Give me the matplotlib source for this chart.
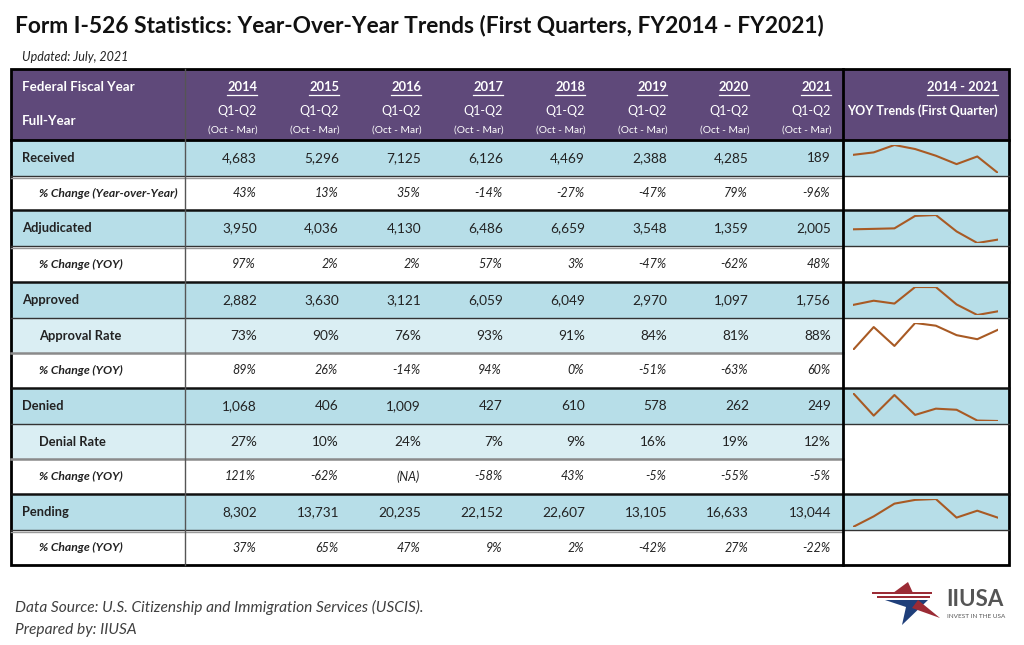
import matplotlib
matplotlib.use("Agg")
import matplotlib.pyplot as plt
from matplotlib.patches import Rectangle, Polygon

plt.rcParams['font.family'] = ['Lato', 'DejaVu Sans']

# ---- data ----
years = ["2014", "2015", "2016", "2017", "2018", "2019", "2020", "2021"]
received = [4683, 5296, 7125, 6126, 4469, 2388, 4285, 189]
received_chg = ["43%", "13%", "35%", "-14%", "-27%", "-47%", "79%", "-96%"]
adjudicated = [3950, 4036, 4130, 6486, 6659, 3548, 1359, 2005]
adjudicated_chg = ["97%", "2%", "2%", "57%", "3%", "-47%", "-62%", "48%"]
approved = [2882, 3630, 3121, 6059, 6049, 2970, 1097, 1756]
approval_rate = [73, 90, 76, 93, 91, 84, 81, 88]
approved_chg = ["89%", "26%", "-14%", "94%", "0%", "-51%", "-63%", "60%"]
denied = [1068, 406, 1009, 427, 610, 578, 262, 249]
denial_rate = [27, 10, 24, 7, 9, 16, 19, 12]
denied_chg = ["121%", "-62%", "(NA)", "-58%", "43%", "-5%", "-55%", "-5%"]
pending = [8302, 13731, 20235, 22152, 22607, 13105, 16633, 13044]
pending_chg = ["37%", "65%", "47%", "9%", "2%", "-42%", "27%", "-22%"]

# (label, kind, values, cell texts, sparkline?)
rows = [
    ("Received", "main", received, None, True),
    ("% Change (Year-over-Year)", "chg", None, received_chg, False),
    ("Adjudicated", "main", adjudicated, None, True),
    ("% Change (YOY)", "chg", None, adjudicated_chg, False),
    ("Approved", "main", approved, None, True),
    ("Approval Rate", "rate", approval_rate, None, True),
    ("% Change (YOY)", "chg", None, approved_chg, False),
    ("Denied", "main", denied, None, True),
    ("Denial Rate", "rate", denial_rate, None, False),
    ("% Change (YOY)", "chg", None, denied_chg, False),
    ("Pending", "main", pending, None, True),
    ("% Change (YOY)", "chg", None, pending_chg, False),
]

PURPLE = "#5F497A"
BLUE = "#B7DEE8"
LBLUE = "#DAEEF3"
TXT = "#222222"
SPARK = "#A85A24"

W, H = 1024, 645
fig = plt.figure(figsize=(W / 100, H / 100), dpi=100)
ax = fig.add_axes([0, 0, 1, 1])
ax.set_xlim(0, W)
ax.set_ylim(H, 0)
ax.axis("off")

left, lab_r, trend_l, right = 11, 185, 843, 1009
col_w = 82
head_top, head_bot = 69, 140
edges = [140, 176, 210, 246, 282, 318, 353, 388, 424, 459, 494, 530, 565]

# title
ax.text(15, 26, "Form I-526 Statistics: Year-Over-Year Trends (First Quarters, FY2014 - FY2021)",
        fontsize=16.4, fontweight="bold", color="#111111", va="center", ha="left")
ax.text(22, 57, "Updated: July, 2021", fontsize=9, style="italic", color=TXT, va="center")

# header
ax.add_patch(Rectangle((left, head_top), right - left, head_bot - head_top, color=PURPLE, lw=0))
ax.text(22, 87, "Federal Fiscal Year", fontsize=9.6, fontweight="bold", color="white", va="center")
ax.text(22, 121, "Full-Year", fontsize=9.6, fontweight="bold", color="white", va="center")

underline = []
for i, yr in enumerate(years):
    xr = lab_r + col_w * (i + 1) - 10
    t = ax.text(xr, 87, yr, fontsize=9.3, fontweight="bold", color="white", va="center", ha="right")
    underline.append(t)
    ax.text(xr, 111, "Q1-Q2", fontsize=9, color="white", va="center", ha="right")
    ax.text(xr + 1, 130, "(Oct - Mar)", fontsize=7.4, color="white", va="center", ha="right")
t = ax.text(998, 87, "2014 - 2021", fontsize=9.3, fontweight="bold", color="white", va="center", ha="right")
underline.append(t)
ax.text(998, 111, "YOY Trends (First Quarter)", fontsize=9, fontweight="bold", color="white",
        va="center", ha="right")

# body rows
for r, (label, kind, vals, texts, spark) in enumerate(rows):
    y0, y1 = edges[r], edges[r + 1]
    yc = (y0 + y1) / 2
    bg = {"main": BLUE, "rate": LBLUE, "chg": "white"}[kind]
    ax.add_patch(Rectangle((left, y0), trend_l - left, y1 - y0, color=bg, lw=0))
    ax.add_patch(Rectangle((trend_l, y0), right - trend_l, y1 - y0,
                           color=BLUE if kind == "main" else "white", lw=0))
    if kind == "main":
        ax.text(22, yc, label, fontsize=9.3, fontweight="bold", color=TXT, va="center")
    elif kind == "rate":
        ax.text(39, yc, label, fontsize=9.3, fontweight="bold", color=TXT, va="center")
    else:
        ax.text(39, yc, label, fontsize=8.7, fontweight="bold", style="italic", color=TXT, va="center")
    for i in range(len(years)):
        xr = lab_r + col_w * (i + 1) - 10
        if kind == "main":
            ax.text(xr, yc, f"{vals[i]:,}", fontsize=9.8, color=TXT, va="center", ha="right")
        elif kind == "rate":
            ax.text(xr, yc, f"{vals[i]}%", fontsize=9.8, color=TXT, va="center", ha="right")
        else:
            ax.text(xr - 1, yc, texts[i], fontsize=9, style="italic", color=TXT, va="center", ha="right")
    if spark:
        sa = fig.add_axes([853 / W, 1 - (y1 - 3) / H, 145 / W, (y1 - y0 - 8) / H])
        sa.plot(range(len(vals)), vals, color=SPARK, lw=1.5)
        sa.set_xlim(0, len(vals) - 1)
        sa.set_ylim(min(vals), max(vals))
        sa.axis("off")
        sa.patch.set_alpha(0)

# horizontal rules
ax.plot([left, right], [head_bot, head_bot], color="black", lw=2)
for r in range(1, len(rows)):
    y = edges[r]
    kind_prev = rows[r - 1][1]
    kind_cur = rows[r][1]
    if kind_cur == "main":
        ax.plot([left, right], [y, y], color="#111111", lw=1.8)
    elif kind_prev == "main":
        ax.plot([left, right], [y, y], color="#333333", lw=1.0)
        if kind_cur == "chg":
            ax.plot([left, trend_l], [y + 2, y + 2], color="#9a9a9a", lw=1.0)
    else:
        ax.plot([left, trend_l], [y, y], color="#8a8a8a", lw=1.8)

# vertical rules and frame
ax.plot([lab_r, lab_r], [head_top, edges[-1]], color="#555555", lw=1.0)
ax.plot([trend_l, trend_l], [head_top, edges[-1]], color="black", lw=2)
ax.add_patch(Rectangle((left, head_top), right - left, edges[-1] - head_top,
                       fill=False, edgecolor="black", lw=2))

# underline header years
fig.canvas.draw()
rend = fig.canvas.get_renderer()
inv = ax.transData.inverted()
for t in underline:
    bb = t.get_window_extent(rend)
    (x0, _), (x1, _) = inv.transform([(bb.x0, bb.y0), (bb.x1, bb.y1)])
    ax.plot([x0, x1], [95, 95], color="white", lw=0.9)

# footer
ax.text(15, 607, "Data Source: U.S. Citizenship and Immigration Services (USCIS).",
        fontsize=11.2, style="italic", color="#404040", va="center")
ax.text(15, 630, "Prepared by: IIUSA", fontsize=11.2, style="italic", color="#404040", va="center")

# logo
red, navy = "#9B2B35", "#1F3F7A"
ax.add_patch(Polygon([(893, 593), (908, 582), (913, 593)], closed=True, color=red, lw=0))
ax.add_patch(Polygon([(872, 592), (932, 592), (932, 594), (872, 594)], closed=True, color=red, lw=0))
ax.add_patch(Polygon([(877, 596), (930, 596), (930, 598), (877, 598)], closed=True, color=red, lw=0))
ax.add_patch(Polygon([(885, 600), (928, 600), (902, 625), (906, 607)], closed=True, color=navy, lw=0))
ax.add_patch(Polygon([(918, 600), (940, 618), (912, 608)], closed=True, color=red, lw=0))
ax.text(946, 599, "IIUSA", fontsize=16, fontweight="bold", color="#555555", va="center")
ax.text(947, 616, "INVEST IN THE USA", fontsize=4.6, color="#555555", va="center")

fig.savefig("out.png", dpi=100)
